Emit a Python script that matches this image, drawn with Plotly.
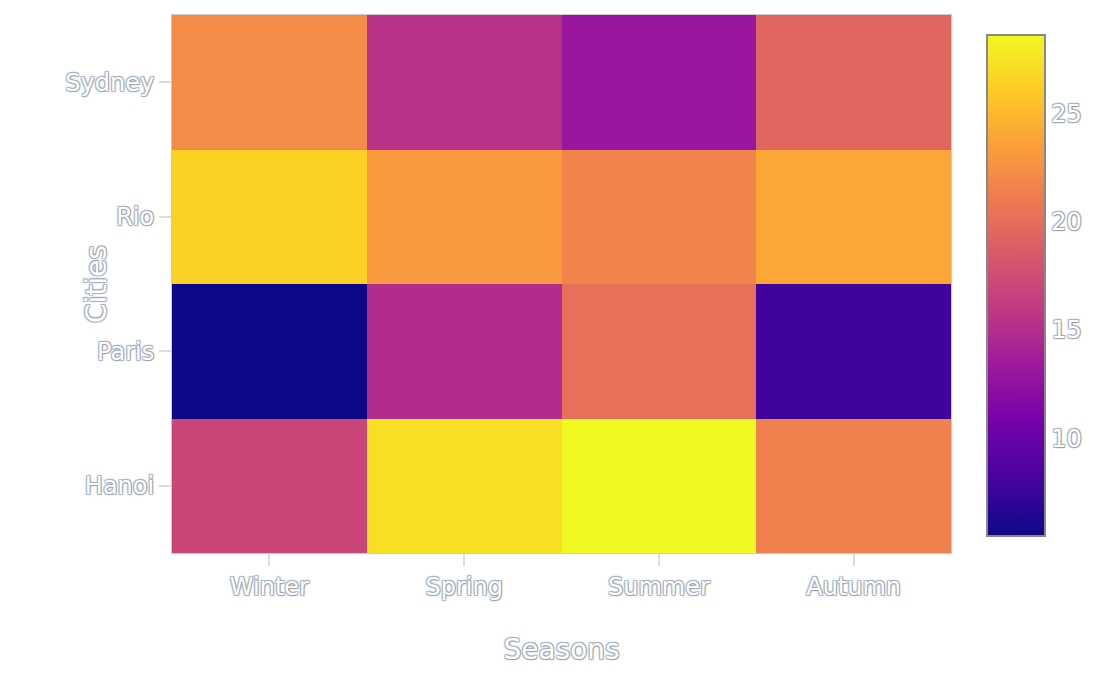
import plotly.graph_objects as go

seasons = ["Winter", "Spring", "Summer", "Autumn"]
cities = ["Hanoi", "Paris", "Rio", "Sydney"]
temps = [
    [17.0, 27.2, 28.6, 21.4],   # Hanoi
    [5.5, 14.9, 20.2, 7.8],     # Paris
    [26.4, 23.0, 21.6, 23.9],   # Rio
    [22.1, 15.4, 13.1, 19.5],   # Sydney
]

SHADOW = "1px 1px 1px #a0a0a0, -1px -1px 1px #9fb4d8, 1px -1px 1px #a0a0a0, -1px 1px 1px #9fb4d8"
font_style = dict(family="DejaVu Sans, Verdana, sans-serif", color="white", shadow=SHADOW)

fig = go.Figure(go.Heatmap(
    z=temps, x=seasons, y=cities,
    colorscale="Plasma",
    colorbar=dict(
        x=1.046, xanchor="left", xpad=0,
        y=0.497, yanchor="middle", len=0.932, ypad=0,
        thickness=58, outlinecolor="#888888", outlinewidth=2,
        ticks="", tickfont=dict(size=24, **font_style),
    ),
))

axis_common = dict(
    showline=True, mirror=True, linecolor="#cccccc", linewidth=1,
    ticks="outside", ticklen=12, tickcolor="#dddddd", tickwidth=2,
    tickfont=dict(size=24, **font_style), showgrid=False, zeroline=False,
)

fig.update_layout(
    template="none",
    width=1112, height=675,
    margin=dict(l=172, r=161, t=15, b=122),
    paper_bgcolor="white", plot_bgcolor="white",
    font=dict(size=24, **font_style),
    xaxis=dict(title=dict(text="Seasons", standoff=39, font=dict(size=28, **font_style)),
               automargin=True, **axis_common),
    yaxis=dict(title=dict(text="Cities", font=dict(size=28, **font_style)), **axis_common),
)

fig.write_html("out.html")
